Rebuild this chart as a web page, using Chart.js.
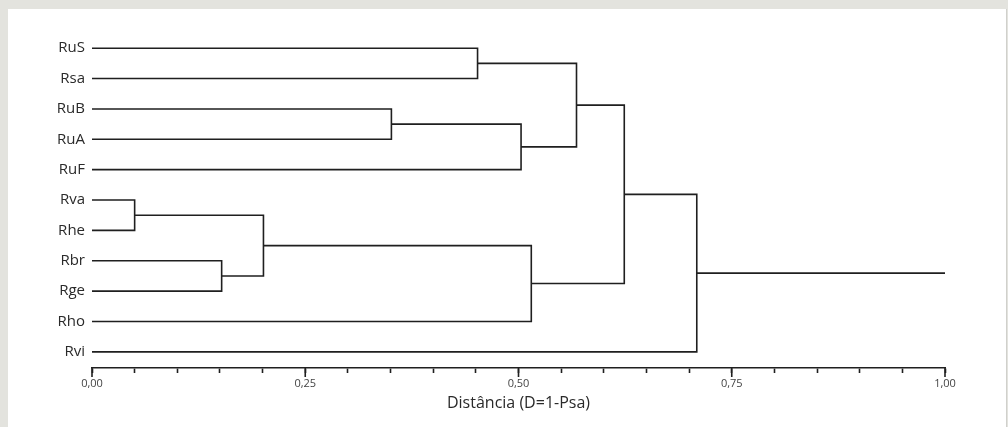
<!DOCTYPE html>
<html>
<head>
<meta charset="utf-8">
<script src="https://cdn.jsdelivr.net/npm/chart.js@4.4.1/dist/chart.umd.min.js"></script>
<style>
  html, body { margin: 0; padding: 0; background: #e3e3de; }
  #panel { position: absolute; left: 8px; top: 9px; width: 998px; height: 418px; background: #fff; border-right: 1px solid #d0d0cc; }
</style>
</head>
<body>
<div id="panel"><canvas id="myChart"></canvas></div>
<script>
// leaves, top to bottom
const leaves = ['RuS', 'Rsa', 'RuB', 'RuA', 'RuF', 'Rva', 'Rhe', 'Rbr', 'Rge', 'Rho', 'Rvi'];
// merges: node ids 0..10 are leaves, 11.. are the clusters made below (in order)
const mergeLeft = [5, 7, 11, 2, 0, 14, 13, 15, 18, 19];
const mergeRight = [6, 8, 12, 3, 1, 4, 9, 16, 17, 10];
const mergeHeight = [0.050, 0.152, 0.201, 0.351, 0.452, 0.503, 0.515, 0.568, 0.624, 0.709];
const rootEnd = 1.0;
const majorTicks = [0, 0.25, 0.5, 0.75, 1];

const lineColor = '#1f1f1f';

// work out node positions from the tree
let nodeX = leaves.map(() => 0);
let nodeY = leaves.map((_, i) => i);
for (let i = 0; i < mergeHeight.length; i++) {
    nodeX.push(mergeHeight[i]);
    nodeY.push((nodeY[mergeLeft[i]] + nodeY[mergeRight[i]]) / 2);
}

let datasets = [];
for (let i = 0; i < mergeHeight.length; i++) {
    let a = mergeLeft[i], b = mergeRight[i], h = mergeHeight[i];
    datasets.push({
        data: [
            {x: nodeX[a], y: nodeY[a]},
            {x: h, y: nodeY[a]},
            {x: h, y: nodeY[b]},
            {x: nodeX[b], y: nodeY[b]}
        ]
    });
}
let root = nodeX.length - 1;
datasets.push({
    data: [{x: nodeX[root], y: nodeY[root]}, {x: rootEnd, y: nodeY[root]}]
});
datasets.forEach(d => {
    d.borderColor = lineColor;
    d.borderWidth = 1.6;
    d.pointRadius = 0;
    d.tension = 0;
    d.fill = false;
    d.borderJoinStyle = 'miter';
});

// longer tick marks at the labelled values
const majorTickPlugin = {
    id: 'majorTicks',
    afterDraw(chart) {
        let xs = chart.scales.x;
        let ctx = chart.ctx;
        ctx.save();
        ctx.strokeStyle = lineColor;
        ctx.lineWidth = 1.6;
        majorTicks.forEach(v => {
            let px = xs.getPixelForValue(v);
            ctx.beginPath();
            ctx.moveTo(px, xs.top);
            ctx.lineTo(px, xs.top + 9);
            ctx.stroke();
        });
        ctx.restore();
    }
};

let ctx = document.getElementById('myChart').getContext('2d');
let chart = new Chart(ctx, {
    type: 'line',
    data: { datasets: datasets },
    plugins: [majorTickPlugin],
    options: {
        responsive: true,
        maintainAspectRatio: false,
        animation: false,
        layout: { padding: { top: 24, right: 61, left: 0, bottom: 0 } },
        plugins: { legend: { display: false }, tooltip: { enabled: false } },
        scales: {
            x: {
                type: 'linear',
                min: 0,
                max: 1,
                afterFit: s => { s.height = 59; },
                border: { display: true, color: lineColor, width: 1.6 },
                grid: { drawOnChartArea: false, tickLength: 5, tickColor: lineColor, tickWidth: 1.6 },
                ticks: {
                    stepSize: 0.05,
                    autoSkip: false,
                    maxRotation: 0,
                    padding: 4,
                    color: '#444',
                    font: { family: 'Open Sans', size: 11 },
                    callback: v => {
                        let m = majorTicks.find(t => Math.abs(t - v) < 1e-6);
                        return m === undefined ? '' : m.toFixed(2).replace('.', ',');
                    }
                },
                title: {
                    display: true,
                    text: 'Distância (D=1-Psa)',
                    color: '#2a2a2a',
                    font: { family: 'Open Sans', size: 16 },
                    padding: { top: 0, bottom: 14 }
                }
            },
            y: {
                type: 'linear',
                reverse: true,
                min: -0.5,
                max: 10.53,
                afterFit: s => { s.width = 84; },
                afterBuildTicks: s => { s.ticks = leaves.map((_, i) => ({ value: i })); },
                border: { display: false },
                grid: { display: false, drawTicks: false },
                ticks: {
                    padding: 7,
                    color: '#2a2a2a',
                    font: { family: 'Open Sans', size: 15 },
                    callback: v => leaves[v]
                }
            }
        }
    }
});
</script>
</body>
</html>
